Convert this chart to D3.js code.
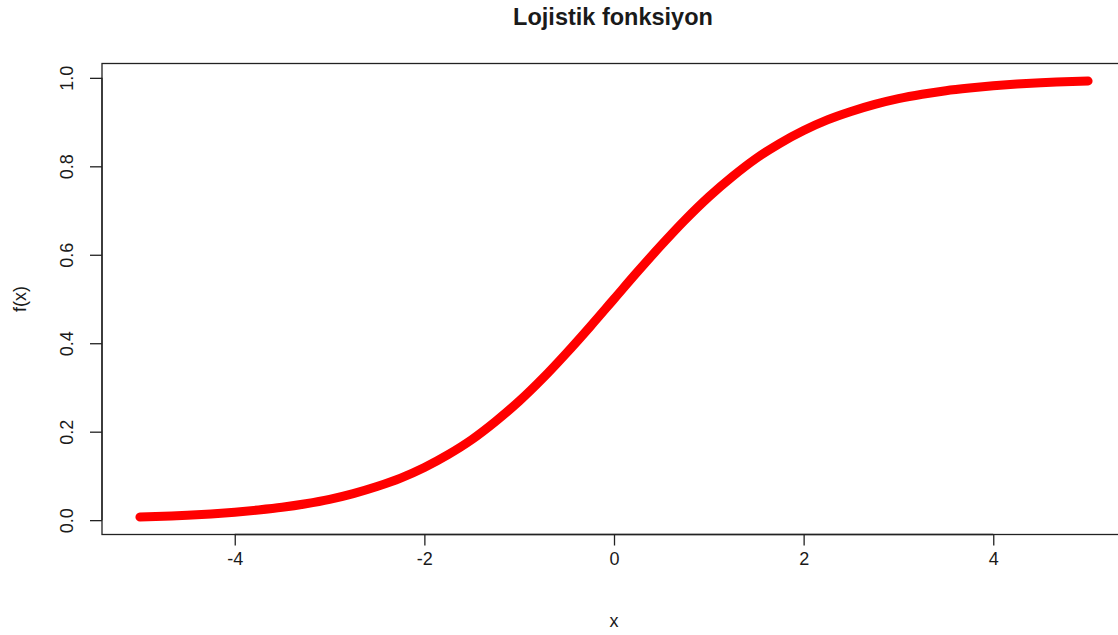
<!DOCTYPE html>
<html>
<head>
<meta charset="utf-8">
<script src="https://cdn.jsdelivr.net/npm/d3@7"></script>
<style>
  html, body { margin: 0; padding: 0; background: #fff; }
  svg { display: block; }
  text { font-family: "Liberation Sans", Arial, sans-serif; fill: #1a1a1a; }
</style>
</head>
<body>
<svg id="chart" width="1118" height="635"></svg>
<script>
// Logistic curve samples: f(x) = 1 / (1 + e^-x)
const xValues = [
  -5, -4.75, -4.5, -4.25, -4, -3.75, -3.5, -3.25, -3, -2.75, -2.5,
  -2.25, -2, -1.75, -1.5, -1.25, -1, -0.75, -0.5, -0.25, 0,
  0.25, 0.5, 0.75, 1, 1.25, 1.5, 1.75, 2, 2.25, 2.5,
  2.75, 3, 3.25, 3.5, 3.75, 4, 4.25, 4.5, 4.75, 5
];
const yValues = [
  0.007, 0.009, 0.011, 0.014, 0.018, 0.023, 0.029, 0.037, 0.047, 0.060, 0.076,
  0.095, 0.119, 0.148, 0.182, 0.223, 0.269, 0.321, 0.378, 0.438, 0.500,
  0.562, 0.622, 0.679, 0.731, 0.777, 0.818, 0.852, 0.881, 0.905, 0.924,
  0.940, 0.953, 0.963, 0.971, 0.977, 0.982, 0.986, 0.989, 0.991, 0.993
];
const xTicks = [-4, -2, 0, 2, 4];
const yTicks = [0.0, 0.2, 0.4, 0.6, 0.8, 1.0];
const titleText = "Lojistik fonksiyon";
const xLabel = "x";
const yLabel = "f(x)";

const svg = d3.select("#chart");

// plot region (domain padded by 4% like a base graphics plot)
const plotLeft = 102, plotRight = 1126, plotTop = 63.5, plotBottom = 534.5;
const xExt = d3.extent(xValues), yExt = d3.extent(yValues);
const xPad = (xExt[1] - xExt[0]) * 0.04, yPad = (yExt[1] - yExt[0]) * 0.04;
const x = d3.scaleLinear().domain([xExt[0] - xPad, xExt[1] + xPad]).range([plotLeft, plotRight]);
const y = d3.scaleLinear().domain([yExt[0] - yPad, yExt[1] + yPad]).range([plotBottom, plotTop]);

const pts = xValues.map((v, i) => [v, yValues[i]]);

// curve drawn as a thick band of red
svg.append("path")
  .datum(pts)
  .attr("fill", "none")
  .attr("stroke", "#ff0000")
  .attr("stroke-width", 9)
  .attr("stroke-linecap", "round")
  .attr("stroke-linejoin", "round")
  .attr("d", d3.line().x(d => x(d[0])).y(d => y(d[1])).curve(d3.curveMonotoneX));

// frame
svg.append("rect")
  .attr("x", plotLeft).attr("y", plotTop)
  .attr("width", plotRight - plotLeft).attr("height", plotBottom - plotTop)
  .attr("fill", "none").attr("stroke", "#222").attr("stroke-width", 1.3);

// x axis
const xAxis = d3.axisBottom(x).tickValues(xTicks).tickSize(11).tickPadding(7)
  .tickFormat(d => String(d));
const gx = svg.append("g").attr("transform", `translate(0,${plotBottom})`).call(xAxis);
gx.select(".domain").attr("d", `M${x(xTicks[0])},0H${x(xTicks[xTicks.length - 1])}`)
  .attr("stroke", "#222").attr("stroke-width", 1.3);
gx.selectAll(".tick line").attr("stroke", "#222").attr("stroke-width", 1.3);
gx.selectAll(".tick text").attr("font-size", 18).attr("fill", "#1a1a1a")
  .attr("font-family", "Liberation Sans, Arial, sans-serif");

// y axis with rotated labels
const yAxis = d3.axisLeft(y).tickValues(yTicks).tickSize(12).tickFormat(d3.format(".1f"));
const gy = svg.append("g").attr("transform", `translate(${plotLeft},0)`).call(yAxis);
gy.select(".domain").attr("d", `M0,${y(yTicks[0])}V${y(yTicks[yTicks.length - 1])}`)
  .attr("stroke", "#222").attr("stroke-width", 1.3);
gy.selectAll(".tick line").attr("stroke", "#222").attr("stroke-width", 1.3);
gy.selectAll(".tick text")
  .attr("font-size", 18).attr("fill", "#1a1a1a")
  .attr("font-family", "Liberation Sans, Arial, sans-serif")
  .attr("x", null).attr("dy", null)
  .attr("text-anchor", "middle")
  .attr("transform", "translate(-29.5,0) rotate(-90)");

// title and axis labels
svg.append("text").attr("x", 613).attr("y", 25)
  .attr("text-anchor", "middle").attr("font-size", 23.5).attr("font-weight", "bold")
  .attr("fill", "#000").text(titleText);
svg.append("text").attr("x", 614).attr("y", 627)
  .attr("text-anchor", "middle").attr("font-size", 18).text(xLabel);
svg.append("text").attr("transform", "translate(26,299) rotate(-90)")
  .attr("text-anchor", "middle").attr("font-size", 18).text(yLabel);
</script>
</body>
</html>
